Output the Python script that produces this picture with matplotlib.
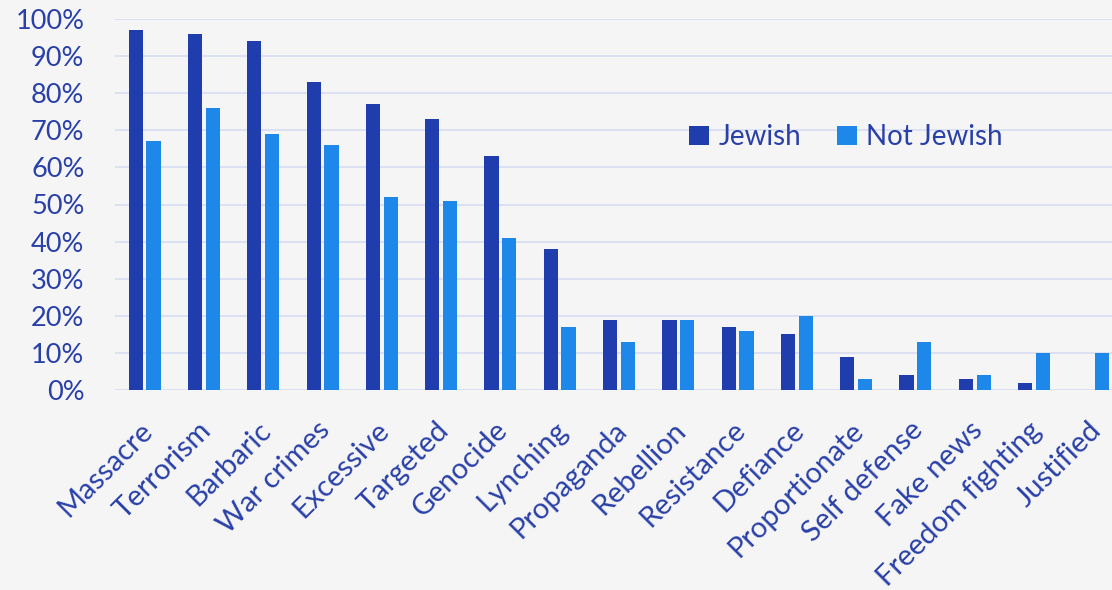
import matplotlib.pyplot as plt
import numpy as np

categories = ['Massacre', 'Terrorism', 'Barbaric', 'War crimes', 'Excessive',
              'Targeted', 'Genocide', 'Lynching', 'Propaganda', 'Rebellion',
              'Resistance', 'Defiance', 'Proportionate', 'Self defense',
              'Fake news', 'Freedom fighting', 'Justified']
jewish = [97, 96, 94, 83, 77, 73, 63, 38, 19, 19, 17, 15, 9, 4, 3, 2, 0]
not_jewish = [67, 76, 69, 66, 52, 51, 41, 17, 13, 19, 16, 20, 3, 13, 4, 10, 10]
yticks = [0, 10, 20, 30, 40, 50, 60, 70, 80, 90, 100]

plt.rcParams['font.family'] = ['Lato', 'DejaVu Sans']

dark = '#1F3DAD'
light = '#1E88EA'
textc = '#2940A8'
bg = '#F5F5F5'

fig = plt.figure(figsize=(11.12, 5.9), dpi=100, facecolor=bg)
ax = fig.add_axes([115 / 1112, 1 - 390 / 590, 1 - 115 / 1112, (390 - 19) / 590])
ax.set_facecolor(bg)

x = np.arange(len(categories))
w = 0.24
ax.bar(x - 0.15, np.array(jewish) / 100, w, color=dark, label='Jewish', zorder=3)
ax.bar(x + 0.15, np.array(not_jewish) / 100, w, color=light, label='Not Jewish', zorder=3)

ax.set_ylim(0, 1)
ax.set_xlim(-0.5, 16.5 - 11 / 59.3)
ax.set_yticks([v / 100 for v in yticks])
ax.set_yticklabels(['{0}%'.format(v) for v in yticks])
ax.yaxis.grid(True, color='#D6DEF2', linewidth=1.2, zorder=0)
ax.set_axisbelow(True)
for s in ax.spines.values():
    s.set_visible(False)
ax.tick_params(axis='y', length=0, pad=22, labelsize=19.5, labelcolor=textc)
ax.tick_params(axis='x', length=0, pad=26, labelsize=21, labelcolor=textc)

ax.set_xticks(x + 0.06)
ax.set_xticklabels(categories, rotation=45, ha='right', va='center',
                   rotation_mode='anchor')

fig.legend(loc='center', bbox_to_anchor=(846 / 1112, 1 - 137 / 590), ncol=2,
           frameon=False, fontsize=20, labelcolor=textc, handlelength=0.7,
           handleheight=0.7, handletextpad=0.35, columnspacing=1.3)

fig.savefig('out.png', dpi=100, facecolor=bg)
